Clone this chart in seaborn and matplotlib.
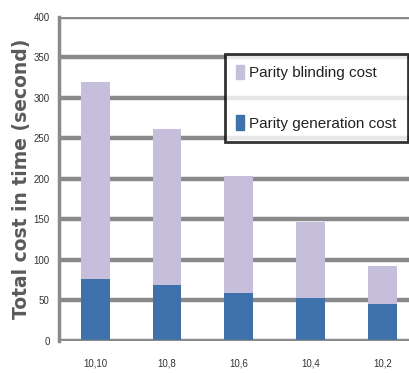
import matplotlib
matplotlib.use("Agg")
import matplotlib.pyplot as plt
import seaborn as sns
import pandas as pd
from matplotlib.patches import Patch

categories = ["10,10", "10,8", "10,6", "10,4", "10,2"]
generation_cost = [77, 69, 59, 53, 46]
total_cost = [319, 262, 203, 147, 93]
blinding_cost = [t - g for t, g in zip(total_cost, generation_cost)]

sns.set_theme(style="white")
plt.rcParams['font.family'] = ['Liberation Sans Narrow', 'Liberation Sans', 'DejaVu Sans']

blue = "#3F71AA"
lav = "#C6BFDB"
grid = "#8A8A8A"

fig = plt.figure(figsize=(4.09, 3.75), dpi=100)
ax = fig.add_axes([0.145, 0.091, 0.86, 0.864])

df = pd.DataFrame({"cat": categories, "total": total_cost, "gen": generation_cost})
sns.barplot(data=df, x="cat", y="total", color=lav, width=0.4, ax=ax, saturation=1, zorder=3, linewidth=0)
sns.barplot(data=df, x="cat", y="gen", color=blue, width=0.4, ax=ax, saturation=1, zorder=4, linewidth=0)

ax.set_ylim(0, 400)
ax.set_xlim(-0.5, 4.4)
ax.set_yticks(range(0, 401, 50))
ax.yaxis.grid(True, color=grid, linewidth=3.2, zorder=0)
ax.set_axisbelow(True)
for s in ["top", "right"]:
    ax.spines[s].set_visible(False)
for s in ["left", "bottom"]:
    ax.spines[s].set_color(grid)
    ax.spines[s].set_linewidth(2.5)
ax.spines["bottom"].set_visible(False)

ax.set_xticks(range(len(categories)))
ax.set_xticklabels(categories)
ax.set_xticks([i + 0.5 for i in range(len(categories) - 1)], minor=True)
ax.tick_params(axis="x", which="major", length=0, labelsize=7, colors="#333333", pad=13)
ax.tick_params(axis="x", which="minor", length=6, width=2, color=grid, direction="out")
ax.tick_params(axis="y", length=4, width=2, color=grid, labelsize=7, labelcolor="#333333", direction="out", pad=3)
ax.axhline(0, color=grid, linewidth=2.5, zorder=5)

ax.set_xlabel("")
ax.set_ylabel("Total cost in time (second)", fontsize=13.5, fontweight="bold", color="#5a5a5a",
              family=["DejaVu Sans"], labelpad=2)

handles = [Patch(color=lav, label="Parity blinding cost"), Patch(color=blue, label="Parity generation cost")]
leg = ax.legend(handles=handles, loc="upper right", bbox_to_anchor=(0.99, 0.885),
                fontsize=11, frameon=True, fancybox=False, handlelength=0.55, handleheight=1.1,
                handletextpad=0.35, labelspacing=2.3, borderpad=0.7, borderaxespad=0)
leg.get_frame().set_edgecolor("black")
leg.get_frame().set_linewidth(2)
leg.set_zorder(10)
for t in leg.get_texts():
    t.set_color("#222222")

fig.savefig("out.png", dpi=100)
